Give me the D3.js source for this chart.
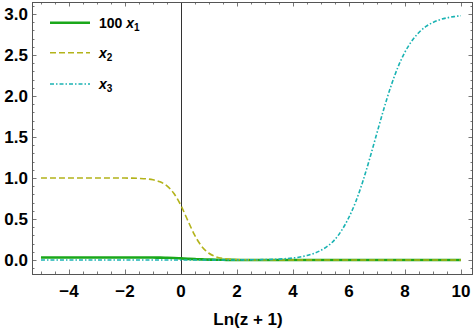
<!DOCTYPE html>
<html>
<head>
<meta charset="utf-8">
<script src="https://cdn.jsdelivr.net/npm/d3@7"></script>
<style>
  body { margin: 0; background: #fff; }
  text { font-family: "Liberation Sans", Arial, sans-serif; }
</style>
</head>
<body>
<svg id="chart" width="474" height="330"></svg>
<script>
// ln(z+1) grid and the three curves
var lnz = [-5, -4, -3, -2, -1.75, -1.5, -1.25, -1, -0.75, -0.5, -0.25, 0,
  0.25, 0.5, 0.75, 1, 1.25, 1.5, 1.75, 2, 2.25, 2.5, 2.75, 3, 3.25, 3.5, 3.75,
  4, 4.25, 4.5, 4.75, 5, 5.25, 5.5, 5.75, 6, 6.25, 6.5, 6.75, 7, 7.25, 7.5,
  7.75, 8, 8.25, 8.5, 8.75, 9, 9.25, 9.5, 9.75, 10];

var x1x100 = [0.03, 0.03, 0.03, 0.03, 0.03, 0.03, 0.0298, 0.0293, 0.0285, 0.027, 0.024, 0.019,
  0.014, 0.010, 0.007, 0.0045, 0.003, 0.002, 0.001, 0.0005, 0, 0, 0, 0, 0, 0, 0,
  0, 0, 0, 0, 0, 0, 0, 0, 0, 0, 0, 0, 0, 0, 0,
  0, 0, 0, 0, 0, 0, 0, 0, 0, 0];

var x2 = [1, 1, 1, 0.999, 0.998, 0.995, 0.990, 0.978, 0.953, 0.903, 0.811, 0.664,
  0.477, 0.296, 0.162, 0.082, 0.039, 0.019, 0.009, 0.004, 0.002, 0.001, 0, 0, 0, 0, 0,
  0, 0, 0, 0, 0, 0, 0, 0, 0, 0, 0, 0, 0, 0, 0,
  0, 0, 0, 0, 0, 0, 0, 0, 0, 0];

var x3 = [0, 0, 0, 0, 0, 0, 0, 0, 0, 0, 0, 0,
  0, 0, 0, 0, 0, 0, 0, 0.001, 0.001, 0.002, 0.003, 0.005, 0.007, 0.011, 0.016,
  0.024, 0.036, 0.054, 0.080, 0.118, 0.172, 0.250, 0.367, 0.521, 0.717, 0.964, 1.247, 1.549, 1.847, 2.120,
  2.352, 2.535, 2.673, 2.774, 2.848, 2.896, 2.931, 2.953, 2.968, 2.979];

var xTicks = [-4, -2, 0, 2, 4, 6, 8, 10];
var yTicks = [0, 0.5, 1, 1.5, 2, 2.5, 3];

var series = [
  {name: "x1", values: x1x100, color: "#1aa81a", width: 2.6, dash: null},
  {name: "x2", values: x2, color: "#b3b31a", width: 1.6, dash: "6,3"},
  {name: "x3", values: x3, color: "#1ab3b3", width: 1.6, dash: "4,2,1.5,2"}
];

var svg = d3.select("#chart");
var pLeft = 32, pRight = 473, pTop = 2, pBottom = 274;

var x = d3.scaleLinear().domain([-5.32, 10.43]).range([pLeft, pRight]);
var y = d3.scaleLinear().domain([-0.171, 3.146]).range([pBottom, pTop]);

var frameColor = "#555";

// minor + major ticks on all four sides, pointing inward
var xMinor = d3.range(-5, 10.01, 0.5).filter(function(v) { return v % 2 !== 0; });
var yMinor = d3.range(-0.1, 3.11, 0.1).filter(function(v) { return Math.abs(v * 2 - Math.round(v * 2)) > 1e-6; });

var ticks = svg.append("g").attr("stroke", "#777").attr("stroke-width", 1);
function tickX(list, len) {
  list.forEach(function(v) {
    var px = Math.round(x(v)) + 0.5;
    ticks.append("line").attr("x1", px).attr("x2", px).attr("y1", pBottom).attr("y2", pBottom - len);
    ticks.append("line").attr("x1", px).attr("x2", px).attr("y1", pTop).attr("y2", pTop + len);
  });
}
function tickY(list, len) {
  list.forEach(function(v) {
    var py = Math.round(y(v)) + 0.5;
    ticks.append("line").attr("x1", pLeft).attr("x2", pLeft + len).attr("y1", py).attr("y2", py);
    ticks.append("line").attr("x1", pRight).attr("x2", pRight - len).attr("y1", py).attr("y2", py);
  });
}
tickX(xTicks, 4.5);
tickX(xMinor, 2.5);
tickY(yTicks, 4.5);
tickY(yMinor, 2.5);

// vertical line at ln(z+1)=0
svg.append("line")
    .attr("x1", Math.round(x(0)) + 0.5).attr("x2", Math.round(x(0)) + 0.5)
    .attr("y1", pTop).attr("y2", pBottom)
    .attr("stroke", "#333").attr("stroke-width", 1);

// curves
var line = d3.line()
    .x(function(d) { return x(d[0]); })
    .y(function(d) { return y(d[1]); })
    .curve(d3.curveMonotoneX);

series.forEach(function(s) {
  svg.append("path")
      .datum(lnz.map(function(z, i) { return [z, s.values[i]]; }))
      .attr("fill", "none")
      .attr("stroke", s.color)
      .attr("stroke-width", s.width)
      .attr("stroke-dasharray", s.dash)
      .attr("d", line);
});

// frame
svg.append("rect")
    .attr("x", pLeft + 0.5).attr("y", pTop + 0.5)
    .attr("width", pRight - pLeft - 1).attr("height", pBottom - pTop)
    .attr("fill", "none").attr("stroke", frameColor).attr("stroke-width", 1);

// tick labels
svg.append("g").selectAll("text")
    .data(xTicks).enter().append("text")
      .attr("x", function(d) { return x(d); })
      .attr("y", 297)
      .attr("text-anchor", "middle")
      .style("font-size", "17px").style("font-weight", "bold")
      .text(function(d) { return d < 0 ? "\u2212" + Math.abs(d) : d; });

svg.append("g").selectAll("text")
    .data(yTicks).enter().append("text")
      .attr("x", 28)
      .attr("y", function(d) { return y(d) + 6; })
      .attr("text-anchor", "end")
      .style("font-size", "17px").style("font-weight", "bold")
      .text(function(d) { return d.toFixed(1); });

// axis title
svg.append("text")
    .attr("x", 248).attr("y", 325)
    .attr("text-anchor", "middle")
    .style("font-size", "17px").style("font-weight", "bold")
    .text("Ln(z + 1)");

// legend
var legendY = [22.7, 52.7, 84];
series.forEach(function(s, i) {
  svg.append("line")
      .attr("x1", 50).attr("x2", 90)
      .attr("y1", legendY[i]).attr("y2", legendY[i])
      .attr("stroke", s.color)
      .attr("stroke-width", s.width)
      .attr("stroke-dasharray", s.dash);
  var t = svg.append("text")
      .attr("x", 99).attr("y", legendY[i] + 5)
      .style("font-size", "14px").style("font-weight", "bold");
  if (i === 0) t.append("tspan").text("100 ");
  t.append("tspan").style("font-style", "italic").text("x");
  t.append("tspan").attr("dy", 3).style("font-size", "10px").text(String(i + 1));
});
</script>
</body>
</html>
